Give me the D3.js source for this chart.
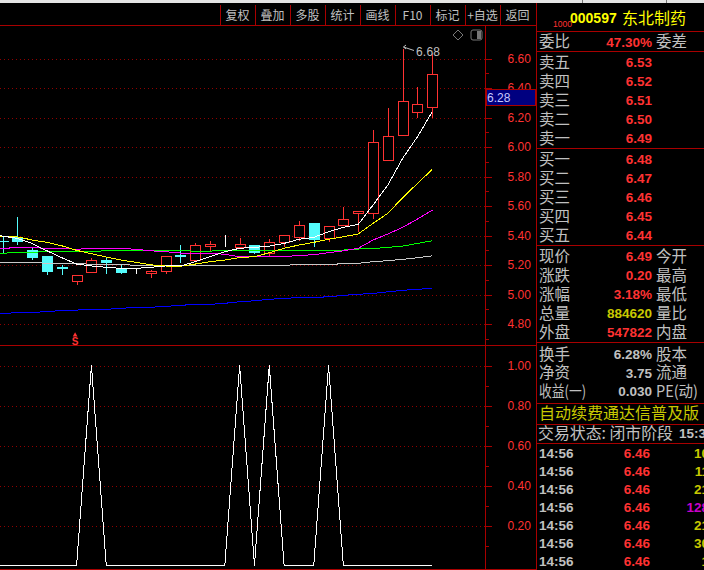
<!DOCTYPE html>
<html>
<head>
<meta charset="utf-8">
<style>
  html, body { margin: 0; padding: 0; background: #000; overflow: hidden; }
  text { font-family: "Liberation Sans", "Noto Sans CJK SC", sans-serif; }
  .cn { font-family: "Noto Sans CJK SC", sans-serif; }
  .axis path, .axis line { stroke: #a80000; shape-rendering: crispEdges; }
  .axis text { fill: #ff3232; font-size: 12px; }
</style>
</head>
<body>
<div id="chart"></div>
<script src="https://cdn.jsdelivr.net/npm/d3@7"></script>
<script>
// daily bars
const opens = [5.362, 5.388, 5.302, 5.261, 5.181, 5.087, 5.148, 5.234, 5.175, 5.151, 5.146, 5.155, 5.262, 5.229, 5.329, 5.320, 5.318, 5.334, 5.280, 5.350, 5.388, 5.485, 5.379, 5.470, 5.551, 5.551, 5.910, 6.080, 6.236, 6.269];
const closes = [5.361, 5.358, 5.254, 5.160, 5.180, 5.131, 5.232, 5.221, 5.153, 5.151, 5.160, 5.259, 5.261, 5.336, 5.343, 5.320, 5.341, 5.284, 5.354, 5.402, 5.470, 5.375, 5.463, 5.510, 5.564, 6.032, 6.073, 6.310, 6.290, 6.493];
const highs = [5.392, 5.528, 5.314, 5.261, 5.200, 5.131, 5.246, 5.257, 5.200, 5.178, 5.167, 5.259, 5.336, 5.350, 5.363, 5.404, 5.381, 5.334, 5.375, 5.402, 5.499, 5.485, 5.463, 5.596, 5.564, 6.116, 6.263, 6.663, 6.405, 6.636];
const lows = [5.280, 5.336, 5.234, 5.133, 5.133, 5.065, 5.148, 5.139, 5.139, 5.139, 5.112, 5.139, 5.212, 5.229, 5.293, 5.320, 5.318, 5.275, 5.261, 5.325, 5.365, 5.325, 5.358, 5.470, 5.426, 5.512, 5.910, 6.080, 6.199, 6.199];

// moving averages, first value belongs to the bar just off the left edge
const maWhite = [5.403, 5.397, 5.381, 5.347, 5.297, 5.250, 5.207, 5.194, 5.185, 5.178, 5.178, 5.185, 5.194, 5.194, 5.223, 5.257, 5.291, 5.314, 5.320, 5.329, 5.347, 5.375, 5.388, 5.426, 5.456, 5.476, 5.607, 5.743, 5.924, 6.070, 6.240];
const maYellow = [5.397, 5.397, 5.392, 5.370, 5.354, 5.331, 5.300, 5.277, 5.255, 5.234, 5.219, 5.202, 5.194, 5.192, 5.207, 5.223, 5.234, 5.251, 5.257, 5.284, 5.314, 5.336, 5.354, 5.375, 5.392, 5.411, 5.483, 5.551, 5.657, 5.754, 5.849];
const maMagenta = [5.314, 5.314, 5.318, 5.318, 5.314, 5.314, 5.307, 5.314, 5.314, 5.314, 5.307, 5.297, 5.291, 5.282, 5.282, 5.282, 5.273, 5.257, 5.257, 5.257, 5.257, 5.266, 5.270, 5.284, 5.297, 5.314, 5.370, 5.411, 5.456, 5.512, 5.573];
const maGreen = [5.280, 5.280, 5.286, 5.286, 5.293, 5.293, 5.293, 5.293, 5.297, 5.297, 5.297, 5.300, 5.300, 5.297, 5.295, 5.295, 5.300, 5.302, 5.302, 5.300, 5.300, 5.300, 5.300, 5.302, 5.302, 5.309, 5.312, 5.320, 5.329, 5.347, 5.365];
const maGray = [5.219, 5.219, 5.219, 5.219, 5.212, 5.212, 5.212, 5.205, 5.205, 5.205, 5.198, 5.198, 5.198, 5.198, 5.198, 5.198, 5.198, 5.198, 5.198, 5.194, 5.198, 5.205, 5.205, 5.205, 5.209, 5.212, 5.223, 5.230, 5.239, 5.250, 5.263];
const maBlue = [4.873, 4.873, 4.877, 4.877, 4.886, 4.891, 4.895, 4.900, 4.900, 4.907, 4.914, 4.914, 4.920, 4.927, 4.934, 4.934, 4.941, 4.952, 4.958, 4.968, 4.975, 4.979, 4.981, 4.985, 4.995, 5.002, 5.008, 5.019, 5.029, 5.036, 5.042];

// lower indicator
const signal = [0, 0, 0, 0, 0, 0, 0, 1, 0, 0, 0, 0, 0, 0, 0, 0, 0, 1, 0, 1, 0, 0, 0, 1, 0, 0, 0, 0, 0, 0, 0];

const priceTicks = [4.8, 5.0, 5.2, 5.4, 5.6, 5.8, 6.0, 6.2, 6.4, 6.6];
const priceMinor = [4.7, 4.9, 5.1, 5.3, 5.5, 5.7, 5.9, 6.1, 6.3, 6.5];
const signalTicks = [0.2, 0.4, 0.6, 0.8, 1.0];
const signalMinor = [0.1, 0.3, 0.5, 0.7, 0.9];

const buttons = ["复权", "叠加", "多股", "统计", "画线", "F10", "标记", "+自选", "返回"];
const askLabels = ["卖五", "卖四", "卖三", "卖二", "卖一"];
const askPrices = ["6.53", "6.52", "6.51", "6.50", "6.49"];
const bidLabels = ["买一", "买二", "买三", "买四", "买五"];
const bidPrices = ["6.48", "6.47", "6.46", "6.45", "6.44"];
const quoteLabels = ["现价", "涨跌", "涨幅", "总量", "外盘"];
const quoteValues = ["6.49", "0.20", "3.18%", "884620", "547822"];
const quoteRight = ["今开", "最高", "最低", "量比", "内盘"];
const infoLabels = ["换手", "净资", "收益(一)"];
const infoValues = ["6.28%", "3.75", "0.030"];
const infoRight = ["股本", "流通", "PE(动)"];
const tickTimes = ["14:56", "14:56", "14:56", "14:56", "14:56", "14:56", "14:56"];
const tickPrices = ["6.46", "6.46", "6.46", "6.46", "6.46", "6.46", "6.46"];
const tickVolumes = ["10", "11", "21", "128", "21", "30", "1"];

const RED = "#ff3232", CYAN = "#54fcfc", GRID = "#900000", LINE = "#a80000", GRAY = "#c0c0c0";

const svg = d3.select("#chart").append("svg")
  .attr("width", 704)
  .attr("height", 570)
  .style("display", "block");

svg.append("rect").attr("width", 704).attr("height", 570).attr("fill", "#000");

const x = d3.scaleLinear().domain([0, 29]).range([2.5, 432.3]);
const y = d3.scaleLinear().domain([4.8, 6.6]).range([324.1, 58.6]);
const y2 = d3.scaleLinear().domain([0, 1]).range([565.5, 365.5]);

svg.append("clipPath").attr("id", "plot")
  .append("rect").attr("x", 0).attr("y", 26).attr("width", 485).attr("height", 544);

// dotted grid
const gridG = svg.append("g").attr("shape-rendering", "crispEdges");
gridG.append("g").selectAll("line").data(priceTicks).enter().append("line")
  .attr("x1", 0).attr("x2", 485)
  .attr("y1", (d) => Math.round(y(d)) + 0.5).attr("y2", (d) => Math.round(y(d)) + 0.5)
  .attr("stroke", GRID).attr("stroke-dasharray", "1,3");
gridG.append("g").selectAll("line").data(signalTicks).enter().append("line")
  .attr("x1", 0).attr("x2", 485)
  .attr("y1", (d) => Math.round(y2(d)) + 0.5).attr("y2", (d) => Math.round(y2(d)) + 0.5)
  .attr("stroke", GRID).attr("stroke-dasharray", "1,3");

// candles
const bars = d3.range(closes.length);
const barColor = (i) => closes[i] > opens[i] ? RED : closes[i] < opens[i] ? CYAN : "#fff";
const candles = svg.append("g").attr("clip-path", "url(#plot)").attr("shape-rendering", "crispEdges");
candles.selectAll("line").data(bars).enter().append("line")
  .attr("x1", (i) => Math.round(x(i)) + 0.5).attr("x2", (i) => Math.round(x(i)) + 0.5)
  .attr("y1", (i) => y(highs[i])).attr("y2", (i) => y(lows[i]))
  .attr("stroke", barColor);
candles.selectAll("rect").data(bars).enter().append("rect")
  .attr("x", (i) => Math.round(x(i)) - 5 + 0.5)
  .attr("width", 10)
  .attr("y", (i) => y(Math.max(opens[i], closes[i])))
  .attr("height", (i) => Math.abs(y(opens[i]) - y(closes[i])))
  .attr("fill", (i) => closes[i] > opens[i] ? "#000" : barColor(i))
  .attr("stroke", barColor);

// moving averages
const maLine = d3.line().x((d, i) => x(i - 1)).y((d) => y(d));
const maSeries = [
  [maBlue, "#0000ff"],
  [maGray, "#c8c8c8"],
  [maGreen, "#00ff00"],
  [maMagenta, "#ff00ff"],
  [maYellow, "#ffff00"],
  [maWhite, "#ffffff"]
];
const maG = svg.append("g").attr("clip-path", "url(#plot)").attr("shape-rendering", "crispEdges");
maSeries.forEach(([values, color]) => {
  maG.append("path")
    .attr("d", maLine(values))
    .attr("fill", "none")
    .attr("stroke", color)
    .attr("stroke-width", 1);
});

// lower panel
svg.append("path")
  .attr("clip-path", "url(#plot)")
  .attr("d", d3.line().x((d, i) => x(i - 1)).y((d) => y2(d))(signal))
  .attr("fill", "none")
  .attr("stroke", "#fff")
  .attr("stroke-width", 1)
  .attr("shape-rendering", "crispEdges");

// sell marker
svg.append("path").attr("d", d3.symbol(d3.symbolTriangle, 10)())
  .attr("transform", `translate(${x(5) - 1.5},335)`).attr("fill", RED);
svg.append("text").attr("x", x(5) - 1.5).attr("y", 345).attr("text-anchor", "middle")
  .attr("fill", RED).attr("font-size", 10).attr("font-weight", "bold").text("S");

// high note
svg.append("path").attr("d", "M403.5 47 L414 50.5 M403.5 47 L406 45 M403.5 47 L406 49")
  .attr("fill", "none").attr("stroke", GRAY);
svg.append("text").attr("x", 416).attr("y", 56).attr("fill", GRAY).attr("font-size", 12)
  .attr("letter-spacing", 0.2).text("6.68");

// little icons top right of the plot
svg.append("path").attr("d", "M458 30 L463 35 L458 40 L453 35 Z").attr("fill", "none").attr("stroke", "#777");
svg.append("rect").attr("x", 471).attr("y", 30).attr("width", 11).attr("height", 10).attr("rx", 2)
  .attr("fill", "none").attr("stroke", "#777");
svg.append("rect").attr("x", 477).attr("y", 31).attr("width", 4).attr("height", 8).attr("fill", "#777");

// axes
function drawAxis(scale, major, minor) {
  const g = svg.append("g").attr("class", "axis").attr("transform", "translate(485.5,0)");
  g.append("g").call(d3.axisRight(scale).tickValues(minor).tickSize(3).tickSizeOuter(0).tickFormat(""))
    .select(".domain").remove();
  g.append("g").call(d3.axisRight(scale).tickValues(major).tickSize(6).tickPadding(16).tickFormat(d3.format(".2f")))
    .select(".domain").remove();
}
drawAxis(y, priceTicks, priceMinor);
drawAxis(y2, signalTicks, signalMinor);

// current price tag
svg.append("rect").attr("x", 486.5).attr("y", 89.5).attr("width", 49).attr("height", 16)
  .attr("fill", "#000080").attr("stroke", LINE);
svg.append("text").attr("x", 487).attr("y", 101.5).attr("fill", "#c8c8ff").attr("font-size", 12).text("6.28");

// frame lines
const rules = svg.append("g").attr("stroke", LINE).attr("shape-rendering", "crispEdges");
function rule(x1, y1, x2, y2) {
  rules.append("line").attr("x1", x1).attr("y1", y1).attr("x2", x2).attr("y2", y2);
}
rule(0, 25.5, 536, 25.5);
rule(0, 345.5, 536, 345.5);
rule(0, 569.5, 536, 569.5);
rule(485.5, 25, 485.5, 570);
rule(536.5, 3, 536.5, 570);
[31, 51, 148, 245, 342, 403, 424, 443].forEach((v) => rule(537, v + 0.5, 704, v + 0.5));

// toolbar
svg.append("rect").attr("width", 704).attr("height", 3).attr("fill", "#e4e4e4");
svg.append("rect").attr("x", 582).attr("width", 1).attr("height", 3).attr("fill", "#777");
svg.append("rect").attr("x", 666).attr("width", 1).attr("height", 3).attr("fill", "#777");
const btnX = d3.scaleLinear().domain([0, 9]).range([220, 535]);
buttons.forEach((b, i) => {
  rule(Math.round(btnX(i)) + 0.5, 5, Math.round(btnX(i)) + 0.5, 25);
  svg.append("text").attr("class", "cn")
    .attr("x", btnX(i) + 17.5).attr("y", 19.5).attr("text-anchor", "middle")
    .attr("fill", GRAY).attr("font-size", 12).text(b);
});

// quote panel
function cn(txt, px, py, color, size) {
  return svg.append("text").attr("class", "cn").attr("x", px).attr("y", py + 5.5)
    .attr("fill", color || GRAY).attr("font-size", size || 15.5).text(txt);
}
function num(txt, px, py, color) {
  return svg.append("text").attr("x", px).attr("y", py + 5).attr("text-anchor", "end")
    .attr("fill", color || RED).attr("font-size", 13.5).attr("font-weight", "bold").text(txt);
}

svg.append("text").attr("x", 553).attr("y", 27).attr("fill", RED).attr("font-size", 8.5).text("1000");
svg.append("text").attr("x", 570).attr("y", 23).attr("fill", "#ffff00").attr("font-size", 14)
  .attr("font-weight", "bold").text("000597");
cn("东北制药", 622, 18.5, "#ffff00", 16);

cn("委比", 539, 41.5);
num("47.30%", 652, 41.5);
cn("委差", 656, 41.5);

const askY = d3.scaleLinear().domain([0, 4]).range([62, 138]);
askLabels.forEach((t, i) => { cn(t, 539, askY(i)); num(askPrices[i], 652, askY(i)); });
const bidY = d3.scaleLinear().domain([0, 4]).range([159, 235]);
bidLabels.forEach((t, i) => { cn(t, 539, bidY(i)); num(bidPrices[i], 652, bidY(i)); });

const quoteY = d3.scaleLinear().domain([0, 4]).range([256, 332]);
quoteLabels.forEach((t, i) => {
  cn(t, 539, quoteY(i));
  num(quoteValues[i], 652, quoteY(i), i === 3 ? "#c8c800" : RED);
  cn(quoteRight[i], 656, quoteY(i));
});

const infoY = d3.scaleLinear().domain([0, 2]).range([354, 391]);
infoLabels.forEach((t, i) => {
  const left = cn(t, 539, infoY(i));
  num(infoValues[i], 652, infoY(i), GRAY);
  const right = cn(infoRight[i], 656, infoY(i));
  if (i === 2) {
    left.attr("textLength", 47).attr("lengthAdjust", "spacingAndGlyphs");
    right.attr("textLength", 42).attr("lengthAdjust", "spacingAndGlyphs");
  }
});

cn("自动续费通达信普及版", 539, 413.5, "#c8c800", 16);
cn("交易状态: 闭市阶段", 538, 433, GRAY, 16).attr("textLength", 135).attr("lengthAdjust", "spacingAndGlyphs");
svg.append("text").attr("x", 679).attr("y", 438).attr("fill", GRAY).attr("font-size", 13.5)
  .attr("font-weight", "bold").text("15:3");

const tickY = d3.scaleLinear().domain([0, 6]).range([453, 561]);
tickTimes.forEach((t, i) => {
  svg.append("text").attr("x", 539).attr("y", tickY(i) + 5).attr("fill", GRAY)
    .attr("font-size", 13.5).attr("font-weight", "bold").text(t);
  num(tickPrices[i], 650, tickY(i));
  num(tickVolumes[i], 709, tickY(i), +tickVolumes[i] > 100 ? "#c800c8" : "#c8c800");
});
</script>
</body>
</html>
